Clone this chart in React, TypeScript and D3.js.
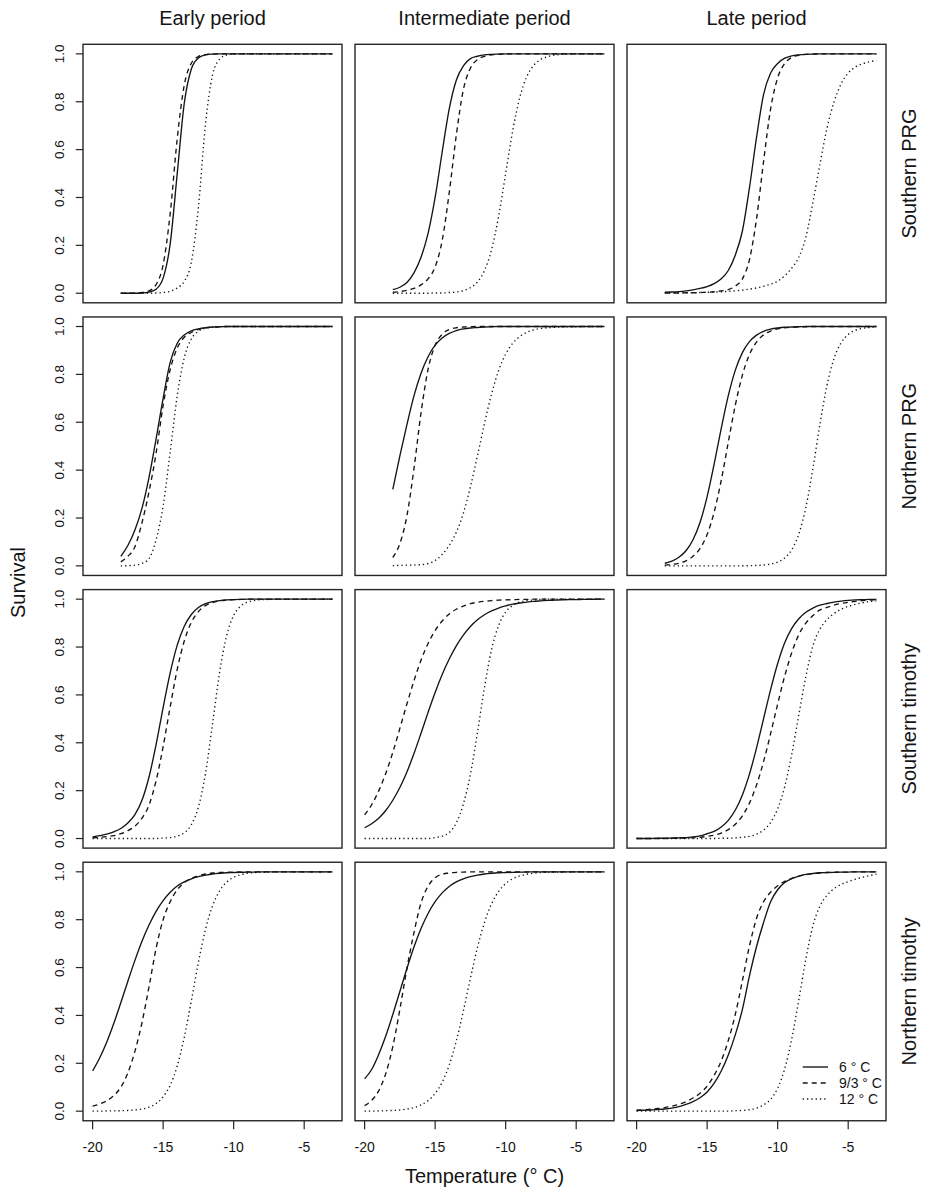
import React from "react";
import * as d3 from "d3";

// temperature grid (deg C) shared by every curve
const TEMPS = [-20, -19.5, -19, -18.5, -18, -17.5, -17, -16.5, -16, -15.5, -15, -14.5, -14, -13.5, -13, -12.5, -12, -11.5, -11, -10.5, -10, -9.5, -9, -8.5, -8, -7.5, -7, -6.5, -6, -5.5, -5, -4.5, -4, -3.5, -3];

const PERIODS = ["Early period", "Intermediate period", "Late period"];
const POPULATIONS = ["Southern PRG", "Northern PRG", "Southern timothy", "Northern timothy"];
const TREATMENTS = ["6 \u00B0 C", "9/3 \u00B0 C", "12 \u00B0 C"];
const X_TICKS = [-20, -15, -10, -5];
const Y_TICKS = [0, 0.2, 0.4, 0.6, 0.8, 1];

const _ = null;

// Southern PRG
const sPrgEarly6 = [_, _, _, _, 0, 0, 0, 0.001, 0.005, 0.017, 0.063, 0.206, 0.5, 0.794, 0.937, 0.983, 0.996, 0.999, 1, 1, 1, 1, 1, 1, 1, 1, 1, 1, 1, 1, 1, 1, 1, 1, 1];
const sPrgEarly93 = [_, _, _, _, 0, 0, 0.001, 0.003, 0.01, 0.036, 0.119, 0.332, 0.646, 0.87, 0.961, 0.989, 0.997, 0.999, 1, 1, 1, 1, 1, 1, 1, 1, 1, 1, 1, 1, 1, 1, 1, 1, 1];
const sPrgEarly12 = [_, _, _, _, 0, 0, 0, 0, 0, 0.001, 0.003, 0.008, 0.022, 0.05, 0.13, 0.359, 0.705, 0.911, 0.977, 0.995, 0.999, 1, 1, 1, 1, 1, 1, 1, 1, 1, 1, 1, 1, 1, 1];
const sPrgInter6 = [_, _, _, _, 0.015, 0.025, 0.045, 0.085, 0.15, 0.25, 0.4, 0.59, 0.77, 0.89, 0.95, 0.98, 0.99, 0.996, 0.998, 0.999, 1, 1, 1, 1, 1, 1, 1, 1, 1, 1, 1, 1, 1, 1, 1];
const sPrgInter93 = [_, _, _, _, 0.004, 0.007, 0.012, 0.02, 0.035, 0.06, 0.11, 0.22, 0.42, 0.66, 0.85, 0.94, 0.976, 0.99, 0.996, 0.998, 0.999, 1, 1, 1, 1, 1, 1, 1, 1, 1, 1, 1, 1, 1, 1];
const sPrgInter12 = [_, _, _, _, 0, 0, 0, 0, 0, 0, 0.001, 0.001, 0.003, 0.005, 0.011, 0.023, 0.047, 0.095, 0.182, 0.321, 0.5, 0.679, 0.818, 0.905, 0.953, 0.977, 0.989, 0.995, 0.998, 0.999, 1, 1, 1, 1, 1];
const sPrgLate6 = [_, _, _, _, 0.004, 0.005, 0.007, 0.01, 0.014, 0.02, 0.028, 0.04, 0.06, 0.095, 0.16, 0.26, 0.44, 0.65, 0.83, 0.92, 0.96, 0.982, 0.992, 0.996, 0.998, 0.999, 1, 1, 1, 1, 1, 1, 1, 1, 1];
const sPrgLate93 = [_, _, _, _, 0.001, 0.001, 0.001, 0.002, 0.002, 0.003, 0.004, 0.006, 0.01, 0.015, 0.03, 0.06, 0.14, 0.31, 0.55, 0.77, 0.9, 0.96, 0.985, 0.994, 0.998, 0.999, 1, 1, 1, 1, 1, 1, 1, 1, 1];
const sPrgLate12 = [_, _, _, _, 0.001, 0.001, 0.001, 0.002, 0.002, 0.003, 0.004, 0.005, 0.006, 0.008, 0.01, 0.013, 0.017, 0.022, 0.029, 0.038, 0.05, 0.073, 0.105, 0.15, 0.235, 0.38, 0.54, 0.69, 0.8, 0.875, 0.92, 0.945, 0.958, 0.967, 0.972];

// Northern PRG
const nPrgEarly6 = [_, _, _, _, 0.04, 0.085, 0.15, 0.24, 0.37, 0.53, 0.7, 0.85, 0.93, 0.965, 0.982, 0.99, 0.995, 0.998, 0.999, 1, 1, 1, 1, 1, 1, 1, 1, 1, 1, 1, 1, 1, 1, 1, 1];
const nPrgEarly93 = [_, _, _, _, 0.017, 0.04, 0.08, 0.18, 0.31, 0.47, 0.67, 0.82, 0.91, 0.955, 0.975, 0.988, 0.994, 0.997, 0.999, 1, 1, 1, 1, 1, 1, 1, 1, 1, 1, 1, 1, 1, 1, 1, 1];
const nPrgEarly12 = [_, _, _, _, 0, 0.001, 0.003, 0.01, 0.03, 0.109, 0.25, 0.475, 0.711, 0.87, 0.948, 0.98, 0.993, 0.997, 0.999, 1, 1, 1, 1, 1, 1, 1, 1, 1, 1, 1, 1, 1, 1, 1, 1];
const nPrgInter6 = [_, _, _, _, 0.32, 0.46, 0.59, 0.71, 0.805, 0.874, 0.922, 0.952, 0.971, 0.983, 0.99, 0.994, 0.996, 0.998, 0.999, 1, 1, 1, 1, 1, 1, 1, 1, 1, 1, 1, 1, 1, 1, 1, 1];
const nPrgInter93 = [_, _, _, _, 0.035, 0.093, 0.209, 0.406, 0.639, 0.821, 0.922, 0.968, 0.987, 0.995, 0.998, 0.999, 1, 1, 1, 1, 1, 1, 1, 1, 1, 1, 1, 1, 1, 1, 1, 1, 1, 1, 1];
const nPrgInter12 = [_, _, _, _, 0.001, 0.002, 0.003, 0.004, 0.005, 0.01, 0.022, 0.048, 0.086, 0.14, 0.22, 0.33, 0.46, 0.595, 0.718, 0.816, 0.885, 0.93, 0.958, 0.976, 0.986, 0.992, 0.995, 0.997, 0.998, 0.999, 0.999, 1, 1, 1, 1];
const nPrgLate6 = [_, _, _, _, 0.011, 0.02, 0.036, 0.063, 0.109, 0.182, 0.289, 0.426, 0.574, 0.711, 0.818, 0.891, 0.937, 0.964, 0.98, 0.989, 0.994, 0.997, 0.998, 0.999, 1, 1, 1, 1, 1, 1, 1, 1, 1, 1, 1];
const nPrgLate93 = [_, _, _, _, 0.003, 0.006, 0.011, 0.021, 0.04, 0.073, 0.131, 0.225, 0.357, 0.517, 0.672, 0.797, 0.883, 0.935, 0.965, 0.981, 0.99, 0.995, 0.997, 0.998, 0.999, 1, 1, 1, 1, 1, 1, 1, 1, 1, 1];
const nPrgLate12 = [_, _, _, _, 0, 0, 0, 0, 0, 0, 0, 0, 0, 0, 0, 0.0005, 0.0008, 0.0017, 0.0036, 0.0076, 0.016, 0.033, 0.068, 0.133, 0.245, 0.407, 0.593, 0.755, 0.867, 0.932, 0.967, 0.984, 0.992, 0.996, 0.998];

// Southern timothy
const sTimEarly6 = [0.007, 0.012, 0.018, 0.028, 0.042, 0.065, 0.1, 0.16, 0.257, 0.392, 0.547, 0.692, 0.808, 0.887, 0.936, 0.965, 0.981, 0.99, 0.994, 0.997, 0.998, 0.999, 1, 1, 1, 1, 1, 1, 1, 1, 1, 1, 1, 1, 1];
const sTimEarly93 = [0.003, 0.005, 0.008, 0.012, 0.02, 0.033, 0.052, 0.085, 0.14, 0.241, 0.384, 0.55, 0.707, 0.825, 0.903, 0.948, 0.973, 0.986, 0.993, 0.996, 0.998, 0.999, 1, 1, 1, 1, 1, 1, 1, 1, 1, 1, 1, 1, 1];
const sTimEarly12 = [0, 0, 0, 0, 0, 0, 0, 0, 0, 0, 0.002, 0.004, 0.01, 0.024, 0.058, 0.131, 0.271, 0.478, 0.692, 0.847, 0.932, 0.971, 0.988, 0.995, 0.998, 0.999, 1, 1, 1, 1, 1, 1, 1, 1, 1];
const sTimInter6 = [0.045, 0.062, 0.085, 0.117, 0.16, 0.213, 0.278, 0.355, 0.44, 0.527, 0.61, 0.685, 0.75, 0.805, 0.85, 0.886, 0.914, 0.935, 0.951, 0.963, 0.972, 0.979, 0.984, 0.988, 0.991, 0.993, 0.995, 0.996, 0.997, 0.998, 0.998, 0.999, 0.999, 1, 1];
const sTimInter93 = [0.099, 0.141, 0.199, 0.272, 0.36, 0.46, 0.562, 0.659, 0.745, 0.815, 0.869, 0.909, 0.938, 0.958, 0.971, 0.981, 0.987, 0.991, 0.994, 0.996, 0.997, 0.998, 0.999, 0.999, 1, 1, 1, 1, 1, 1, 1, 1, 1, 1, 1];
const sTimInter12 = [0, 0, 0, 0, 0, 0, 0, 0, 0, 0, 0.004, 0.01, 0.025, 0.065, 0.144, 0.267, 0.442, 0.632, 0.789, 0.89, 0.946, 0.974, 0.988, 0.994, 0.997, 0.999, 1, 1, 1, 1, 1, 1, 1, 1, 1];
const sTimLate6 = [0, 0, 0, 0.001, 0.001, 0.002, 0.003, 0.004, 0.007, 0.011, 0.02, 0.03, 0.048, 0.076, 0.119, 0.182, 0.269, 0.378, 0.5, 0.622, 0.731, 0.818, 0.878, 0.918, 0.945, 0.963, 0.975, 0.982, 0.988, 0.992, 0.995, 0.997, 0.998, 0.999, 0.999];
const sTimLate93 = [0, 0, 0, 0, 0, 0.001, 0.001, 0.002, 0.003, 0.005, 0.009, 0.014, 0.023, 0.037, 0.06, 0.095, 0.148, 0.223, 0.321, 0.438, 0.562, 0.679, 0.777, 0.852, 0.9, 0.932, 0.955, 0.966, 0.975, 0.982, 0.987, 0.991, 0.994, 0.996, 0.997];
const sTimLate12 = [0, 0, 0, 0, 0, 0, 0, 0, 0, 0, 0, 0, 0.001, 0.001, 0.003, 0.005, 0.009, 0.018, 0.035, 0.067, 0.124, 0.217, 0.353, 0.517, 0.677, 0.805, 0.875, 0.915, 0.94, 0.958, 0.97, 0.978, 0.985, 0.99, 0.993];

// Northern timothy
const nTimEarly6 = [0.168, 0.222, 0.288, 0.366, 0.453, 0.543, 0.63, 0.71, 0.778, 0.835, 0.88, 0.915, 0.941, 0.958, 0.971, 0.98, 0.986, 0.991, 0.994, 0.996, 0.997, 0.998, 0.999, 0.999, 1, 1, 1, 1, 1, 1, 1, 1, 1, 1, 1];
const nTimEarly93 = [0.021, 0.03, 0.043, 0.065, 0.1, 0.16, 0.25, 0.37, 0.52, 0.68, 0.8, 0.875, 0.925, 0.955, 0.973, 0.983, 0.991, 0.995, 0.997, 0.998, 0.999, 1, 1, 1, 1, 1, 1, 1, 1, 1, 1, 1, 1, 1, 1];
const nTimEarly12 = [0, 0, 0.001, 0.001, 0.002, 0.003, 0.005, 0.009, 0.017, 0.032, 0.06, 0.108, 0.189, 0.309, 0.461, 0.621, 0.759, 0.857, 0.92, 0.957, 0.977, 0.988, 0.994, 0.997, 0.998, 0.999, 1, 1, 1, 1, 1, 1, 1, 1, 1];
const nTimInter6 = [0.135, 0.174, 0.237, 0.314, 0.404, 0.5, 0.596, 0.686, 0.763, 0.826, 0.875, 0.912, 0.939, 0.958, 0.971, 0.98, 0.986, 0.991, 0.994, 0.996, 0.997, 0.998, 0.999, 0.999, 1, 1, 1, 1, 1, 1, 1, 1, 1, 1, 1];
const nTimInter93 = [0.023, 0.045, 0.085, 0.157, 0.27, 0.425, 0.596, 0.746, 0.87, 0.94, 0.975, 0.99, 0.995, 0.998, 0.999, 1, 1, 1, 1, 1, 1, 1, 1, 1, 1, 1, 1, 1, 1, 1, 1, 1, 1, 1, 1];
const nTimInter12 = [0, 0, 0.001, 0.002, 0.003, 0.005, 0.009, 0.015, 0.026, 0.044, 0.074, 0.121, 0.193, 0.293, 0.418, 0.555, 0.684, 0.789, 0.866, 0.918, 0.951, 0.971, 0.983, 0.99, 0.994, 0.997, 0.998, 0.999, 0.999, 1, 1, 1, 1, 1, 1];
const nTimLate6 = [0.003, 0.004, 0.005, 0.007, 0.009, 0.013, 0.019, 0.028, 0.04, 0.056, 0.08, 0.117, 0.168, 0.235, 0.32, 0.425, 0.565, 0.687, 0.788, 0.875, 0.925, 0.955, 0.972, 0.982, 0.989, 0.993, 0.996, 0.997, 0.998, 0.999, 0.999, 1, 1, 1, 1];
const nTimLate93 = [0.004, 0.006, 0.008, 0.011, 0.015, 0.021, 0.029, 0.04, 0.055, 0.075, 0.105, 0.15, 0.21, 0.295, 0.405, 0.545, 0.69, 0.805, 0.875, 0.915, 0.942, 0.96, 0.973, 0.982, 0.988, 0.992, 0.995, 0.997, 0.998, 0.999, 0.999, 1, 1, 1, 1];
const nTimLate12 = [0, 0, 0, 0, 0, 0, 0, 0, 0, 0, 0, 0, 0, 0, 0.002, 0.003, 0.006, 0.013, 0.026, 0.05, 0.096, 0.177, 0.302, 0.465, 0.636, 0.775, 0.857, 0.902, 0.93, 0.947, 0.959, 0.969, 0.977, 0.984, 0.99];

// rows = populations, columns = periods, each cell = [6, 9/3, 12 deg C]
const SURVIVAL = [
  [[sPrgEarly6, sPrgEarly93, sPrgEarly12], [sPrgInter6, sPrgInter93, sPrgInter12], [sPrgLate6, sPrgLate93, sPrgLate12]],
  [[nPrgEarly6, nPrgEarly93, nPrgEarly12], [nPrgInter6, nPrgInter93, nPrgInter12], [nPrgLate6, nPrgLate93, nPrgLate12]],
  [[sTimEarly6, sTimEarly93, sTimEarly12], [sTimInter6, sTimInter93, sTimInter12], [sTimLate6, sTimLate93, sTimLate12]],
  [[nTimEarly6, nTimEarly93, nTimEarly12], [nTimInter6, nTimInter93, nTimInter12], [nTimLate6, nTimLate93, nTimLate12]],
];

const DASHES = [null, "5 4", "1.3 3"];

export default function App() {
  const width = 925;
  const height = 1194;
  const panelW = 259;
  const panelH = 258.5;
  const colX = (c: number) => 83 + c * 272;
  const rowY = (r: number) => 44.3 + r * 272.65;

  // R style 4% axis padding
  const [tMin, tMax] = d3.extent(TEMPS) as [number, number];
  const xPad = (tMax - tMin) * 0.04;
  const xDomain = [tMin - xPad, tMax + xPad];
  const yDomain = [-0.04, 1.04];
  const fmtY = d3.format(".1f");

  const font = "'Liberation Sans', Arial, Helvetica, sans-serif";
  const ink = "#141414";
  const frame = "#262626";

  const panels = [];
  SURVIVAL.forEach((row, r) => {
    row.forEach((curves, c) => {
      const x0 = colX(c);
      const y0 = rowY(r);
      const x = d3.scaleLinear().domain(xDomain).range([x0, x0 + panelW]);
      const y = d3.scaleLinear().domain(yDomain).range([y0 + panelH, y0]);
      const line = d3
        .line<number | null>()
        .defined((d) => d != null)
        .x((_d, i) => x(TEMPS[i]))
        .y((d) => y(d as number))
        .curve(d3.curveMonotoneX);

      panels.push(
        <g key={`p-${r}-${c}`}>
          {curves.map((vals, k) => (
            <path
              key={k}
              d={line(vals) || ""}
              fill="none"
              stroke={ink}
              strokeWidth={1.35}
              strokeDasharray={DASHES[k] || undefined}
            />
          ))}
          <rect x={x0} y={y0} width={panelW} height={panelH} fill="none" stroke={frame} strokeWidth={1.4} />

          {c === 0 &&
            Y_TICKS.map((t) => (
              <g key={`yt-${t}`}>
                <line x1={x0} x2={x0 - 7.2} y1={y(t)} y2={y(t)} stroke={frame} strokeWidth={1.2} />
                <text
                  transform={`translate(${x0 - 19},${y(t)}) rotate(-90)`}
                  textAnchor="middle"
                  fontSize={13.5}
                  fill={ink}
                >
                  {fmtY(t)}
                </text>
              </g>
            ))}

          {r === SURVIVAL.length - 1 &&
            X_TICKS.map((t) => (
              <g key={`xt-${t}`}>
                <line x1={x(t)} x2={x(t)} y1={y0 + panelH} y2={y0 + panelH + 8.6} stroke={frame} strokeWidth={1.2} />
                <text x={x(t)} y={y0 + panelH + 31.5} textAnchor="middle" fontSize={14} fill={ink}>
                  {t}
                </text>
              </g>
            ))}

          {r === SURVIVAL.length - 1 && c === 2 && (
            <g>
              {TREATMENTS.map((label, k) => {
                const ly = 1067 + k * 16;
                return (
                  <g key={label}>
                    <line
                      x1={802.7}
                      x2={828}
                      y1={ly}
                      y2={ly}
                      stroke={ink}
                      strokeWidth={1.35}
                      strokeDasharray={DASHES[k] || undefined}
                    />
                    <text x={839} y={ly} dy="0.36em" fontSize={14} fill={ink}>
                      {label}
                    </text>
                  </g>
                );
              })}
            </g>
          )}
        </g>
      );
    });
  });

  return (
    <>
      <style>{"body{margin:0}"}</style>
      <svg width={width} height={height} style={{ display: "block", background: "#fff", fontFamily: font }}>
        {panels}

        {PERIODS.map((p, c) => (
          <text key={p} x={colX(c) + panelW / 2} y={25} textAnchor="middle" fontSize={20} fill={ink}>
            {p}
          </text>
        ))}

        {POPULATIONS.map((p, r) => (
          <text
            key={p}
            transform={`translate(916,${rowY(r) + panelH / 2}) rotate(-90)`}
            textAnchor="middle"
            fontSize={20}
            fill={ink}
          >
            {p}
          </text>
        ))}

        <text transform={`translate(25,${(rowY(0) + rowY(3) + panelH) / 2}) rotate(-90)`} textAnchor="middle" fontSize={20} fill={ink}>
          Survival
        </text>
        <text x={(colX(0) + colX(2) + panelW) / 2} y={1183} textAnchor="middle" fontSize={20} fill={ink}>
          Temperature (° C)
        </text>
      </svg>
    </>
  );
}
